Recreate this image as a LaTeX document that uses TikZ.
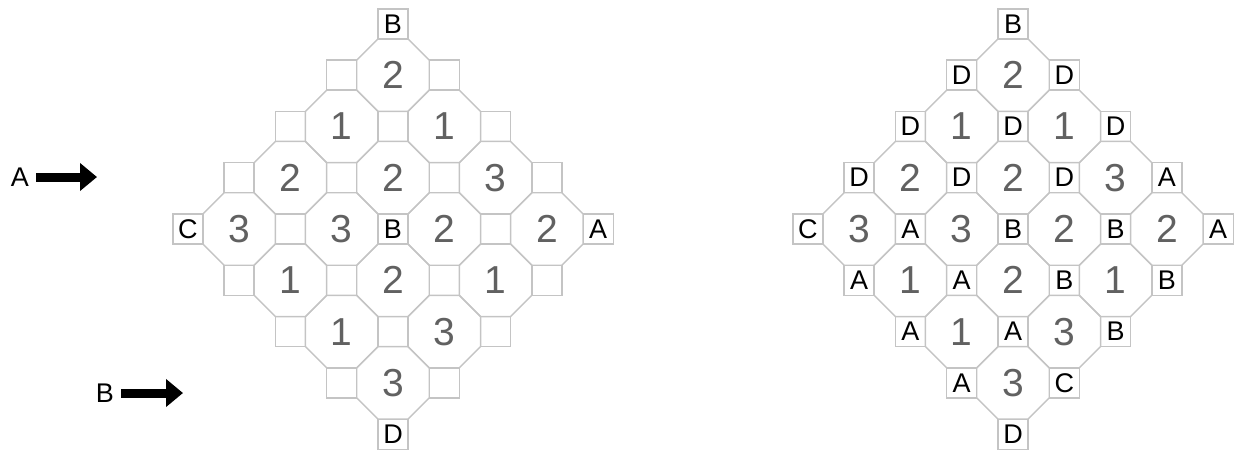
\documentclass[tikz,border=0pt]{standalone}
\usepackage{fontspec}
\setmainfont{Liberation Sans}
\usetikzlibrary{arrows.meta,shapes.geometric}
\tikzset{
  gridoct/.style={regular polygon, regular polygon sides=8, draw=black!23, line width=1.4pt, inner sep=0pt, minimum size=78.5pt, text=black!62, font=\fontsize{39}{39}\selectfont},
  gridsq/.style={rectangle, draw=black!23, line width=1.4pt, inner sep=0pt, minimum size=30pt, font=\fontsize{27}{27}\selectfont},
  gridkey/.style={inner sep=0pt, font=\fontsize{27}{27}\selectfont},
  gridarrow/.style={-{Triangle[length=17pt,width=27pt]}, line width=9pt}
}
% octagon cells: column/row/number
\newcommand\octlist{0/-3/2, -1/-2/1, 1/-2/1, -2/-1/2, 0/-1/2, 2/-1/3, -3/0/3, -1/0/3, 1/0/2, 3/0/2, -2/1/1, 0/1/2, 2/1/1, -1/2/1, 1/2/3, 0/3/3}

\begin{document}
\begin{tikzpicture}[x=1pt, y=-1pt]
\useasboundingbox (0,0) rectangle (1243,456);

% puzzle
\begin{scope}[shift={(393pt,-229pt)}, x=51.3pt, y=-51.3pt]
\foreach \x/\y/\n in \octlist
  \node[gridoct] (po\x\y) at (\x,\y) {\n};
\foreach \x/\y/\n in {0/-4/B, -1/-3/, 1/-3/, -2/-2/, 0/-2/, 2/-2/, -3/-1/, -1/-1/, 1/-1/, 3/-1/,
    -4/0/C, -2/0/, 0/0/B, 2/0/, 4/0/A, -3/1/, -1/1/, 1/1/, 3/1/, -2/2/, 0/2/, 2/2/, -1/3/, 1/3/, 0/4/D}
  \node[gridsq] (ps\x\y) at (\x,\y) {\n};
\end{scope}

% solution
\begin{scope}[shift={(1013pt,-229pt)}, x=51.3pt, y=-51.3pt]
\foreach \x/\y/\n in \octlist
  \node[gridoct] (so\x\y) at (\x,\y) {\n};
\foreach \x/\y/\n in {0/-4/B, -1/-3/D, 1/-3/D, -2/-2/D, 0/-2/D, 2/-2/D, -3/-1/D, -1/-1/D, 1/-1/D, 3/-1/A,
    -4/0/C, -2/0/A, 0/0/B, 2/0/B, 4/0/A, -3/1/A, -1/1/A, 1/1/B, 3/1/B, -2/2/A, 0/2/A, 2/2/B, -1/3/A, 1/3/C, 0/4/D}
  \node[gridsq] (ss\x\y) at (\x,\y) {\n};
\end{scope}

% entry arrows
\node[gridkey] (keyA) at (20,177) {A};
\coordinate (tipA) at (97,177);
\draw[gridarrow] (36,177) -- (tipA);
\node[gridkey] (keyB) at (105,393) {B};
\coordinate (tipB) at (183,393);
\draw[gridarrow] (121,393) -- (tipB);
\end{tikzpicture}
\end{document}
